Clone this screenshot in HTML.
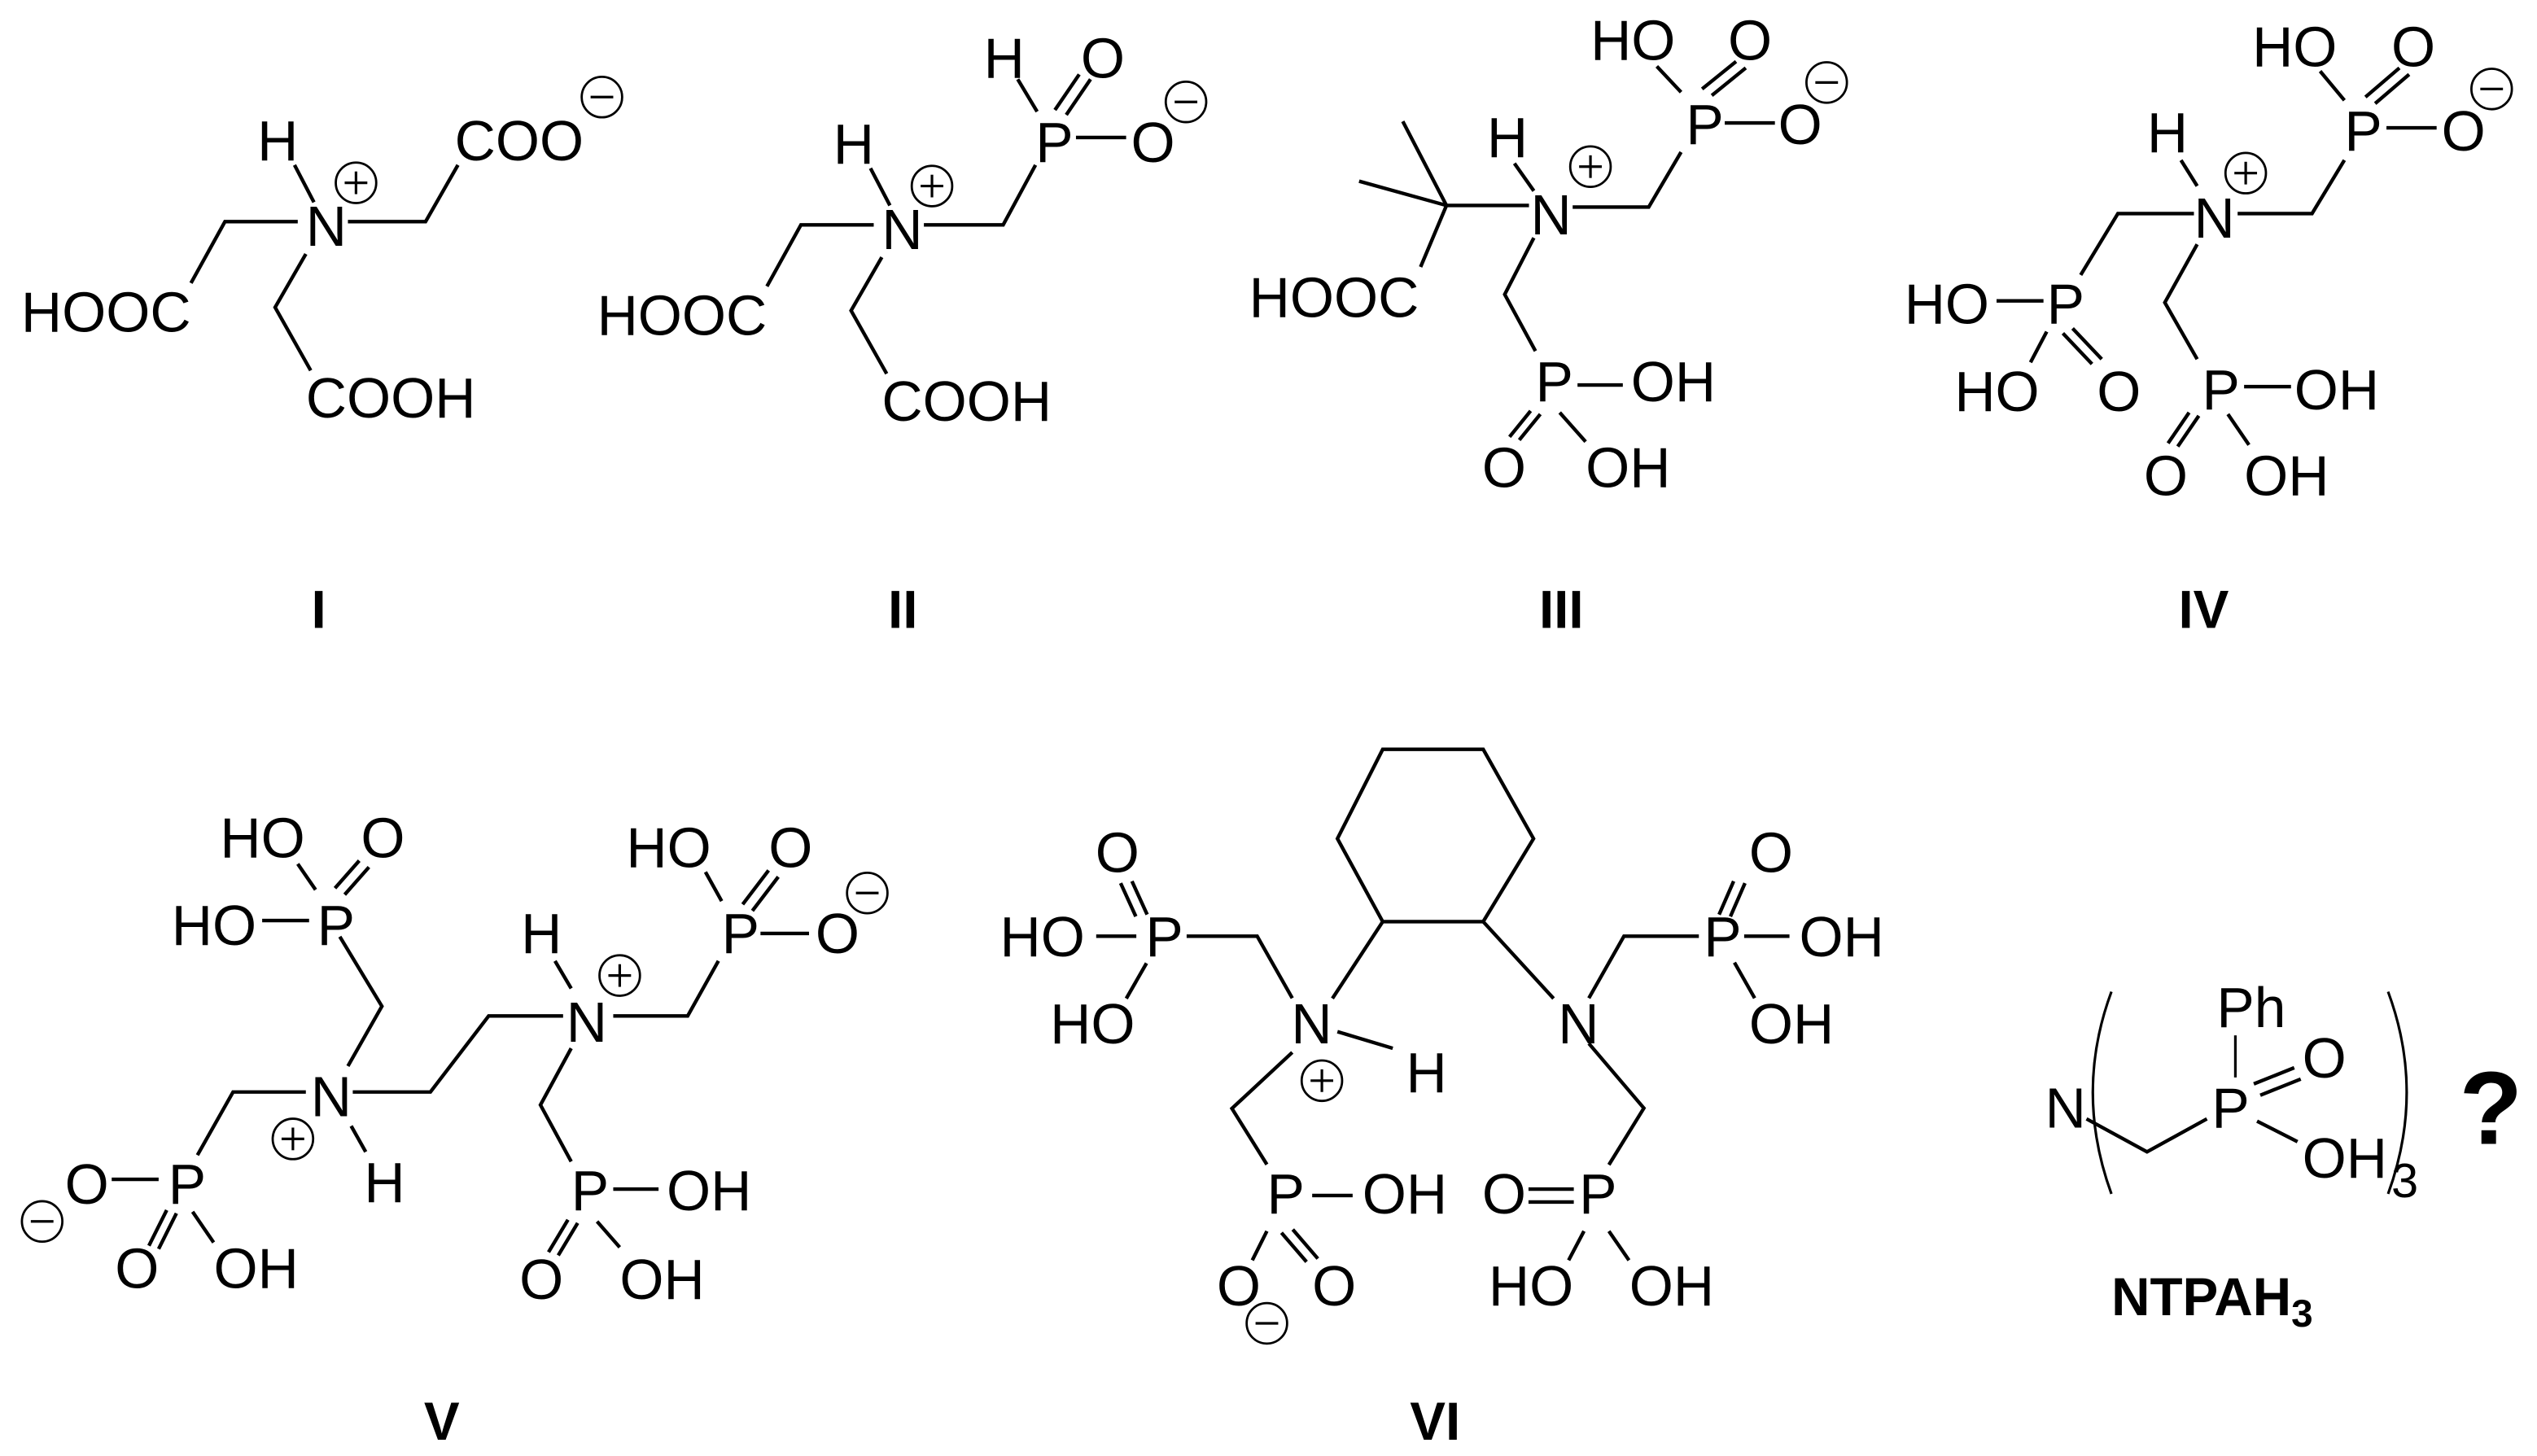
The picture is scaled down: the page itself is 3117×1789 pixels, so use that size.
<!DOCTYPE html>
<html><head><meta charset="utf-8">
<style>
html,body{margin:0;padding:0;background:#fff;}
svg{display:block;}
text{font-family:"Liberation Sans",Arial,sans-serif;font-size:35px;fill:#000;}
.lb{font-weight:bold;font-size:33px;}
</style></head>
<body>
<svg width="3117" height="1789" viewBox="0 0 1568 900" xmlns="http://www.w3.org/2000/svg">
<defs>
<g id="plus"><circle r="12.5" fill="none" stroke="#000" stroke-width="1.4"/><line x1="-7" y1="0" x2="7" y2="0" stroke="#000" stroke-width="1.6"/><line x1="0" y1="-7" x2="0" y2="7" stroke="#000" stroke-width="1.6"/></g>
<g id="minus"><circle r="12.5" fill="none" stroke="#000" stroke-width="1.4"/><line x1="-7" y1="0" x2="7" y2="0" stroke="#000" stroke-width="1.6"/></g>
</defs>
<g stroke="#000" stroke-width="2.2" fill="none" stroke-linecap="butt">
<!-- I -->
<line x1="182" y1="102" x2="194" y2="125"/>
<polyline points="215,137 263,137 283,102"/>
<polyline points="184,137 139,137 118,175"/>
<polyline points="189,157 170,190 192,229"/>
<!-- II -->
<line x1="538" y1="104" x2="550" y2="127"/>
<polyline points="571,139 620,139 640,102"/>
<polyline points="540,139 495,139 474,177"/>
<polyline points="545,159 526,192 548,231"/>
<line x1="629" y1="49" x2="641" y2="69"/>
<line x1="652" y1="68" x2="667" y2="46"/><line x1="659" y1="71" x2="674" y2="49"/>
<line x1="665" y1="85" x2="696" y2="85"/>
<!-- III -->
<line x1="867" y1="75" x2="894" y2="127"/>
<line x1="840" y1="112" x2="894" y2="127"/>
<line x1="894" y1="127" x2="945" y2="127"/>
<line x1="894" y1="127" x2="878" y2="165"/>
<line x1="936" y1="101" x2="948" y2="118"/>
<polyline points="972,128 1019,128 1039,94"/>
<line x1="1024" y1="41" x2="1039" y2="57"/>
<line x1="1052" y1="55" x2="1073" y2="38"/><line x1="1058" y1="59" x2="1079" y2="42"/>
<line x1="1066" y1="76" x2="1097" y2="76"/>
<polyline points="948,147 930,182 949,217"/>
<line x1="975" y1="238" x2="1003" y2="238"/>
<line x1="946" y1="254" x2="933" y2="270"/><line x1="952" y1="256" x2="939" y2="272"/>
<line x1="964" y1="255" x2="980" y2="273"/>
<!-- IV -->
<line x1="1434" y1="44" x2="1449" y2="62"/>
<line x1="1462" y1="60" x2="1483" y2="42"/><line x1="1468" y1="64" x2="1489" y2="46"/>
<line x1="1475" y1="79" x2="1506" y2="79"/>
<polyline points="1449,99 1429,132 1383,132"/>
<line x1="1348" y1="99" x2="1358" y2="115"/>
<polyline points="1356,132 1309,132 1286,170"/>
<line x1="1234" y1="186" x2="1263" y2="186"/>
<line x1="1265" y1="205" x2="1255" y2="224"/>
<line x1="1275" y1="206" x2="1293" y2="225"/><line x1="1281" y1="203" x2="1299" y2="222"/>
<polyline points="1358,151 1338,187 1358,222"/>
<line x1="1387" y1="239" x2="1416" y2="239"/>
<line x1="1353" y1="255" x2="1340" y2="274"/><line x1="1359" y1="257" x2="1346" y2="276"/>
<line x1="1377" y1="256" x2="1390" y2="275"/>
<!-- V -->
<line x1="184" y1="534" x2="195" y2="550"/>
<line x1="207" y1="549" x2="222" y2="532"/><line x1="213" y1="553" x2="228" y2="536"/>
<line x1="162" y1="569" x2="191" y2="569"/>
<polyline points="210,579 236,622 215,659"/>
<polyline points="189,675 144,675 122,714"/>
<line x1="69" y1="729" x2="98" y2="729"/>
<line x1="103" y1="748" x2="92" y2="770"/><line x1="109" y1="750" x2="98" y2="772"/>
<line x1="119" y1="749" x2="132" y2="768"/>
<line x1="217" y1="696" x2="226" y2="712"/>
<polyline points="218,675 266,675 302,628 348,628"/>
<line x1="343" y1="594" x2="353" y2="611"/>
<polyline points="379,628 425,628 444,594"/>
<line x1="436" y1="539" x2="446" y2="557"/>
<line x1="459" y1="559" x2="475" y2="538"/><line x1="465" y1="563" x2="481" y2="542"/>
<line x1="470" y1="577" x2="500" y2="577"/>
<polyline points="353,648 334,683 353,718"/>
<line x1="379" y1="735" x2="407" y2="735"/>
<line x1="351" y1="754" x2="339" y2="774"/><line x1="357" y1="756" x2="345" y2="776"/>
<line x1="369" y1="755" x2="383" y2="771"/>
<!-- VI -->
<polygon points="854.6,463.2 916.7,463.2 947.8,518.4 916.7,569.7 854.6,569.7 826.6,518.4"/>
<line x1="854.6" y1="569.7" x2="823.5" y2="617.2"/>
<line x1="916.7" y1="569.7" x2="960.2" y2="617.2"/>
<polyline points="798.7,617 777,578.7 733.4,578.7"/>
<line x1="677.5" y1="578.7" x2="702.3" y2="578.7"/>
<line x1="702" y1="566.5" x2="692.6" y2="545.9"/><line x1="709" y1="565.3" x2="699.6" y2="544.7"/>
<line x1="708.6" y1="595.4" x2="696.1" y2="617.2"/>
<line x1="826.6" y1="637.7" x2="860.8" y2="648"/>
<polyline points="798.7,650.5 761.4,685.2 783,719.8"/>
<line x1="811" y1="739" x2="836" y2="739"/>
<line x1="783" y1="761" x2="774" y2="779"/>
<line x1="792" y1="762" x2="807.5" y2="780"/><line x1="799" y1="760" x2="814.5" y2="778"/>
<polyline points="982,617 1003.7,578.7 1050,578.7"/>
<line x1="1078" y1="578.7" x2="1106" y2="578.7"/>
<line x1="1062.5" y1="565.3" x2="1071.5" y2="544.7"/><line x1="1069.5" y1="566.5" x2="1078.5" y2="545.9"/>
<line x1="1072" y1="595" x2="1084.5" y2="617"/>
<polyline points="982,645 1016,685 994.4,720"/>
<line x1="944.7" y1="735" x2="972.7" y2="735"/><line x1="944.7" y1="743" x2="972.7" y2="743"/>
<line x1="979" y1="761" x2="969.5" y2="779"/>
<line x1="994.4" y1="761" x2="1006.8" y2="779"/>
<!-- NTPAH3 -->
<polyline points="1289.6,691.6 1327,712 1364,691.6"/>
<line x1="1381.6" y1="640" x2="1381.6" y2="666" stroke-width="1.6"/>
<line x1="1393" y1="670" x2="1418" y2="660"/><line x1="1397" y1="677" x2="1422" y2="667"/>
<line x1="1395" y1="693" x2="1420" y2="705.7"/>
<path d="M1305,613 Q1282,675 1305,738" stroke-width="1.6"/>
<path d="M1476,613 Q1499,675 1476,738" stroke-width="1.6"/>
</g>
<!-- charges -->
<use href="#plus" x="220" y="113"/><use href="#minus" x="372" y="60"/>
<use href="#plus" x="576" y="115"/><use href="#minus" x="733" y="63"/>
<use href="#plus" x="983" y="103"/><use href="#minus" x="1129" y="51"/>
<use href="#plus" x="1388" y="107"/><use href="#minus" x="1540" y="55"/>
<use href="#minus" x="26" y="755"/><use href="#plus" x="181" y="704"/>
<use href="#plus" x="383" y="603"/><use href="#minus" x="536" y="552"/>
<use href="#plus" x="817" y="668"/><use href="#minus" x="783" y="818"/>
<!-- I text -->
<text x="159" y="99">H</text><text x="189" y="152">N</text><text x="281" y="99">COO</text>
<text x="13" y="205">HOOC</text><text x="189" y="258">COOH</text>
<!-- II text -->
<text x="515" y="101">H</text><text x="545" y="154">N</text>
<text x="369" y="207">HOOC</text><text x="545" y="260">COOH</text>
<text x="640" y="100">P</text><text x="608" y="48">H</text><text x="668" y="48">O</text><text x="699" y="100">O</text>
<!-- III text -->
<text x="983" y="37">HO</text><text x="1068" y="37">O</text><text x="1042" y="89">P</text><text x="1099" y="89">O</text>
<text x="919" y="97">H</text><text x="946" y="145">N</text><text x="772" y="196">HOOC</text>
<text x="949" y="248">P</text><text x="1008" y="248">OH</text><text x="916" y="301">O</text><text x="980" y="301">OH</text>
<!-- IV text -->
<text x="1392" y="41">HO</text><text x="1478" y="41">O</text><text x="1449" y="93">P</text><text x="1509" y="93">O</text>
<text x="1327" y="94">H</text><text x="1356" y="147">N</text>
<text x="1177" y="200">HO</text><text x="1265" y="200">P</text><text x="1208" y="254">HO</text><text x="1296" y="254">O</text>
<text x="1361" y="253">P</text><text x="1418" y="253">OH</text><text x="1325" y="306">O</text><text x="1387" y="306">OH</text>
<!-- V text -->
<text x="136" y="530">HO</text><text x="223" y="530">O</text><text x="106" y="584">HO</text><text x="196" y="584">P</text>
<text x="192" y="690">N</text><text x="104" y="744">P</text><text x="40" y="744">O</text>
<text x="71" y="796">O</text><text x="132" y="796">OH</text><text x="225" y="743">H</text>
<text x="350" y="644">N</text><text x="322" y="589">H</text><text x="446" y="589">P</text>
<text x="387" y="536">HO</text><text x="475" y="536">O</text><text x="504" y="589">O</text>
<text x="353" y="748">P</text><text x="412" y="748">OH</text><text x="321" y="803">O</text><text x="383" y="803">OH</text>
<!-- VI text -->
<text x="618" y="591">HO</text><text x="708" y="591">P</text><text x="677" y="539">O</text><text x="649" y="645">HO</text>
<text x="798" y="645">N</text><text x="869" y="675">H</text>
<text x="783" y="750">P</text><text x="842" y="750">OH</text><text x="752" y="807">O</text><text x="811" y="807">O</text>
<text x="963" y="645">N</text><text x="1053" y="591">P</text><text x="1112" y="591">OH</text><text x="1081" y="539">O</text><text x="1081" y="645">OH</text>
<text x="976" y="750">P</text><text x="916" y="750">O</text><text x="920" y="807">HO</text><text x="1007" y="807">OH</text>
<!-- NTPAH3 -->
<text x="1264" y="697">N</text><text x="1367" y="697">P</text><text x="1370" y="635">Ph</text>
<text x="1423" y="666">O</text><text x="1423" y="728">OH</text><text x="1478" y="740" style="font-size:30px">3</text>
<text x="1520" y="707" style="font-weight:bold;font-size:64px">?</text>
<text x="1305" y="813" class="lb">NTPAH<tspan dy="7" style="font-size:24px">3</tspan></text>
<!-- labels -->
<text class="lb" x="197" y="388" text-anchor="middle">I</text>
<text class="lb" x="558" y="388" text-anchor="middle">II</text>
<text class="lb" x="965" y="388" text-anchor="middle">III</text>
<text class="lb" x="1362" y="388" text-anchor="middle">IV</text>
<text class="lb" x="273" y="890" text-anchor="middle">V</text>
<text class="lb" x="887" y="890" text-anchor="middle">VI</text>
</svg>
</body></html>
